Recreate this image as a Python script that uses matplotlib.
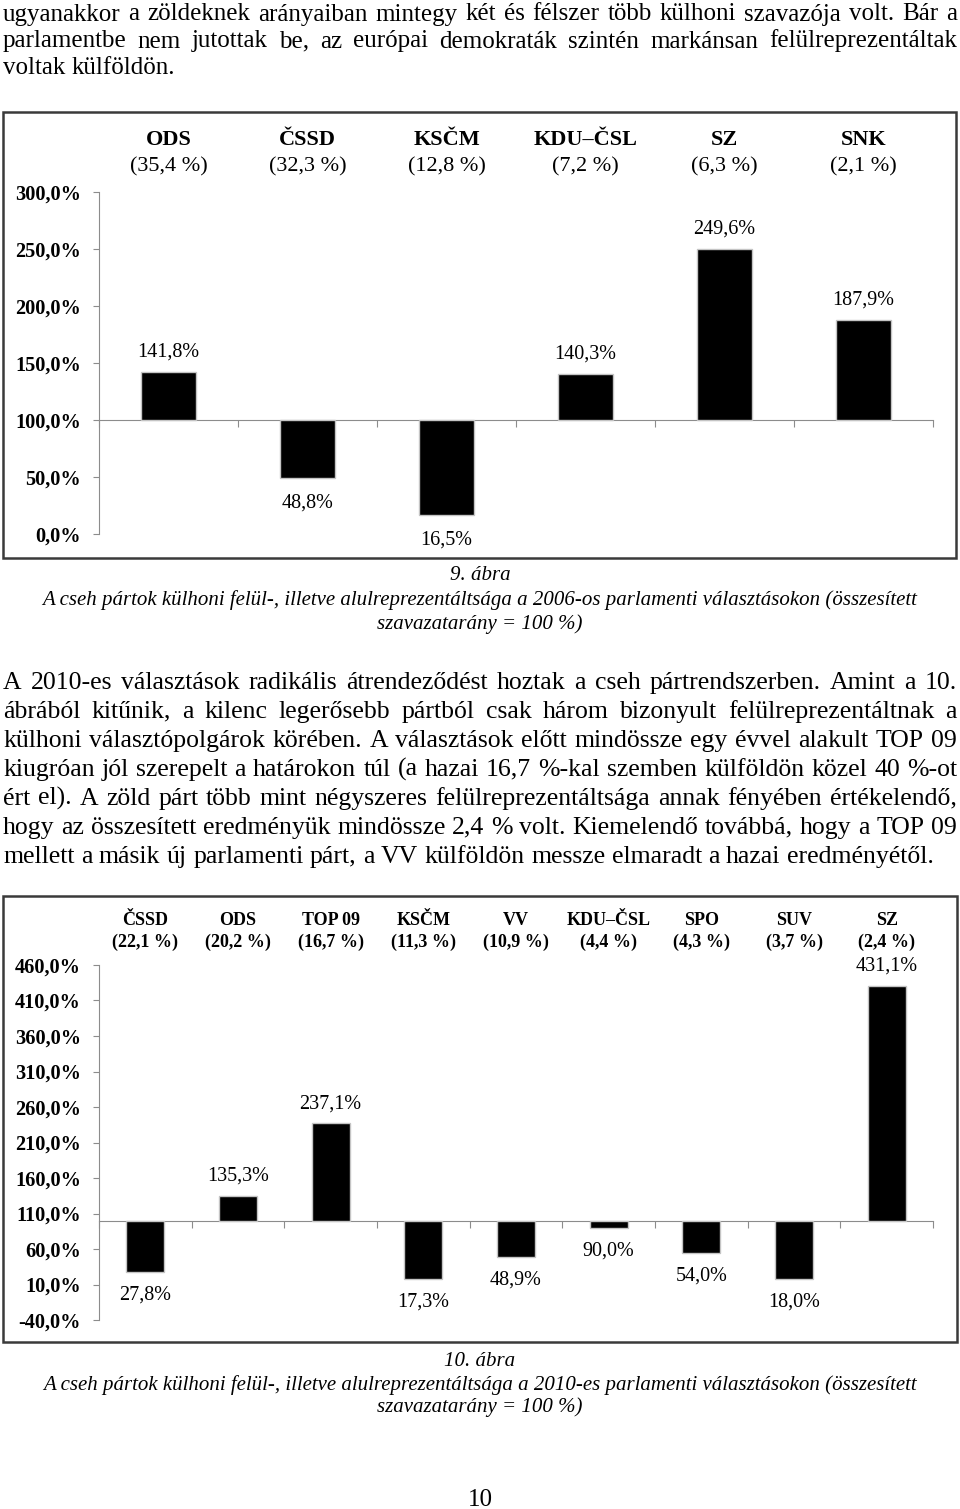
import matplotlib
matplotlib.use('Agg')
import matplotlib.pyplot as plt
import matplotlib.patches as patches
import numpy as np

plt.rcParams['font.family'] = ['Liberation Serif', 'DejaVu Serif']

# --- data ---
parties_2006 = ['ODS', 'ČSSD', 'KSČM', 'KDU–ČSL', 'SZ', 'SNK']
shares_2006 = ['35,4', '32,3', '12,8', '7,2', '6,3', '2,1']
ratio_2006 = [141.8, 48.8, 16.5, 140.3, 249.6, 187.9]
ticks_2006 = [0, 50, 100, 150, 200, 250, 300]

parties_2010 = ['ČSSD', 'ODS', 'TOP 09', 'KSČM', 'VV', 'KDU–ČSL', 'SPO', 'SUV', 'SZ']
shares_2010 = ['22,1', '20,2', '16,7', '11,3', '10,9', '4,4', '4,3', '3,7', '2,4']
ratio_2010 = [27.8, 135.3, 237.1, 17.3, 48.9, 90.0, 54.0, 18.0, 431.1]
ticks_2010 = [-40, 10, 60, 110, 160, 210, 260, 310, 360, 410, 460]

para_top = [
    "ugyanakkor a zöldeknek arányaiban mintegy két és félszer több külhoni szavazója volt. Bár a",
    "parlamentbe nem jutottak be, az európai demokraták szintén markánsan felülreprezentáltak",
    "voltak külföldön.",
]
para_mid = [
    "A 2010-es választások radikális átrendeződést hoztak a cseh pártrendszerben. Amint a 10.",
    "ábrából kitűnik, a kilenc legerősebb pártból csak három bizonyult felülreprezentáltnak a",
    "külhoni választópolgárok körében. A választások előtt mindössze egy évvel alakult TOP 09",
    "kiugróan jól szerepelt a határokon túl (a hazai 16,7 %-kal szemben külföldön közel 40 %-ot",
    "ért el). A zöld párt több mint négyszeres felülreprezentáltsága annak fényében értékelendő,",
    "hogy az összesített eredményük mindössze 2,4 % volt. Kiemelendő továbbá, hogy a TOP 09",
    "mellett a másik új parlamenti párt, a VV külföldön messze elmaradt a hazai eredményétől.",
]
cap_9 = ["9. ábra",
         "A cseh pártok külhoni felül-, illetve alulreprezentáltsága a 2006-os parlamenti választásokon (összesített",
         "szavazatarány = 100 %)"]
cap_10 = ["10. ábra",
          "A cseh pártok külhoni felül-, illetve alulreprezentáltsága a 2010-es parlamenti választásokon (összesített",
          "szavazatarány = 100 %)"]

W, H = 960, 1509
fig = plt.figure(figsize=(W / 100, H / 100), dpi=100)
fig.patch.set_facecolor('white')
page = fig.add_axes([0, 0, 1, 1])
page.set_xlim(0, W)
page.set_ylim(H, 0)
page.axis('off')
rend = fig.canvas.get_renderer()


def width_of(s, size, **kw):
    t = page.text(0, 0, s, fontsize=size, **kw)
    w = t.get_window_extent(rend).width
    t.remove()
    return w


def fit_size(lines, base, avail, **kw):
    widest = max(width_of(s, base, **kw) for s in lines)
    return base * min(1.0, avail / widest)


def paragraph(lines, ys, x0, x1, base, **kw):
    # justified lines, last one left aligned
    size = fit_size(lines, base, x1 - x0, **kw)
    em = size * 100 / 72
    for k, (line, y) in enumerate(zip(lines, ys)):
        words = line.split(' ')
        ts = [page.text(0, y + 0.3 * em, w, fontsize=size, va='baseline', **kw) for w in words]
        ws = [t.get_window_extent(rend).width for t in ts]
        if k < len(lines) - 1 and len(ts) > 1:
            gap = (x1 - x0 - sum(ws)) / (len(ts) - 1)
        else:
            gap = 0.25 * em
        x = x0
        for t, w in zip(ts, ws):
            t.set_x(x)
            x += w + gap


def caption(lines, ys, avail):
    size = fit_size([lines[1]], 16, avail, style='italic')
    for line, y in zip(lines, ys):
        page.text(W / 2, y, line, fontsize=size, style='italic', ha='center', va='center')


def chart(box, axpos, cats, shares, vals, ticks, head_y, head_size, share_bold,
          bar_w, lab_up, lab_down):
    page.add_patch(patches.Rectangle((box[0], box[1]), box[2] - box[0], box[3] - box[1],
                                     fill=False, ec='#3a3a3a', lw=1.8))
    x0, ytop, x1, ybot = axpos
    ax = fig.add_axes([x0 / W, 1 - ybot / H, (x1 - x0) / W, (ybot - ytop) / H])
    ax.patch.set_alpha(0)
    n = len(cats)
    x = np.arange(n)
    v = np.array(vals)
    ax.bar(x, v - 100, bottom=100, width=bar_w, color='black', edgecolor='#c4c4c4', lw=1, zorder=3)
    ax.set_xlim(-0.5, n - 0.5)
    ax.set_ylim(ticks[0], ticks[-1])
    for s in ['top', 'right']:
        ax.spines[s].set_visible(False)
    ax.spines['left'].set_color('#8c8c8c')
    ax.spines['bottom'].set_color('#8c8c8c')
    ax.spines['bottom'].set_position(('data', 100))
    ax.set_xticks(np.arange(-0.5, n, 1.0))
    ax.set_xticklabels([])
    ax.tick_params(axis='x', direction='out', length=5, color='#8c8c8c')
    ax.set_yticks(ticks)
    ax.set_yticklabels([f"{t:.1f}".replace('.', ',') + '%' for t in ticks],
                       fontsize=14.6, fontweight='bold')
    ax.tick_params(axis='y', direction='out', length=4, color='#8c8c8c', pad=9)
    tr = ax.get_xaxis_transform()
    for i, (c, s) in enumerate(zip(cats, shares)):
        ax.text(i, head_y[0], c, transform=tr, ha='center', va='center',
                fontsize=head_size, fontweight='bold')
        ax.text(i, head_y[1], f"({s} %)", transform=tr, ha='center', va='center',
                fontsize=head_size, fontweight='bold' if share_bold else 'normal')
    for i, val in enumerate(vals):
        off = lab_up if val >= 100 else -lab_down
        ax.annotate(f"{val:.1f}".replace('.', ',') + '%', (i, val), xytext=(0, off),
                    textcoords='offset points', ha='center', va='center', fontsize=14.5)
    return ax


paragraph(para_top, [13, 40, 67], 3, 957, 18)

chart((3, 112, 956, 558), (99, 192, 933, 534), parties_2006, shares_2006, ratio_2006,
      ticks_2006, (1.152, 1.073), 16, False, 0.4, 14.5, 18)

caption(cap_9, [575, 600, 624], 875)

paragraph(para_mid, [681, 710, 739, 768, 797, 826, 855], 3, 957, 18.5)

chart((3, 896, 957, 1342), (99, 965, 933, 1320), parties_2010, shares_2010, ratio_2010,
      ticks_2010, (1.124, 1.065), 13, True, 0.41, 14, 16.5)

caption(cap_10, [1362, 1385, 1407], 875)

page.text(W / 2, 1500, "10", fontsize=18, ha='center', va='center')

fig.savefig('out.png', dpi=100, facecolor='white')
